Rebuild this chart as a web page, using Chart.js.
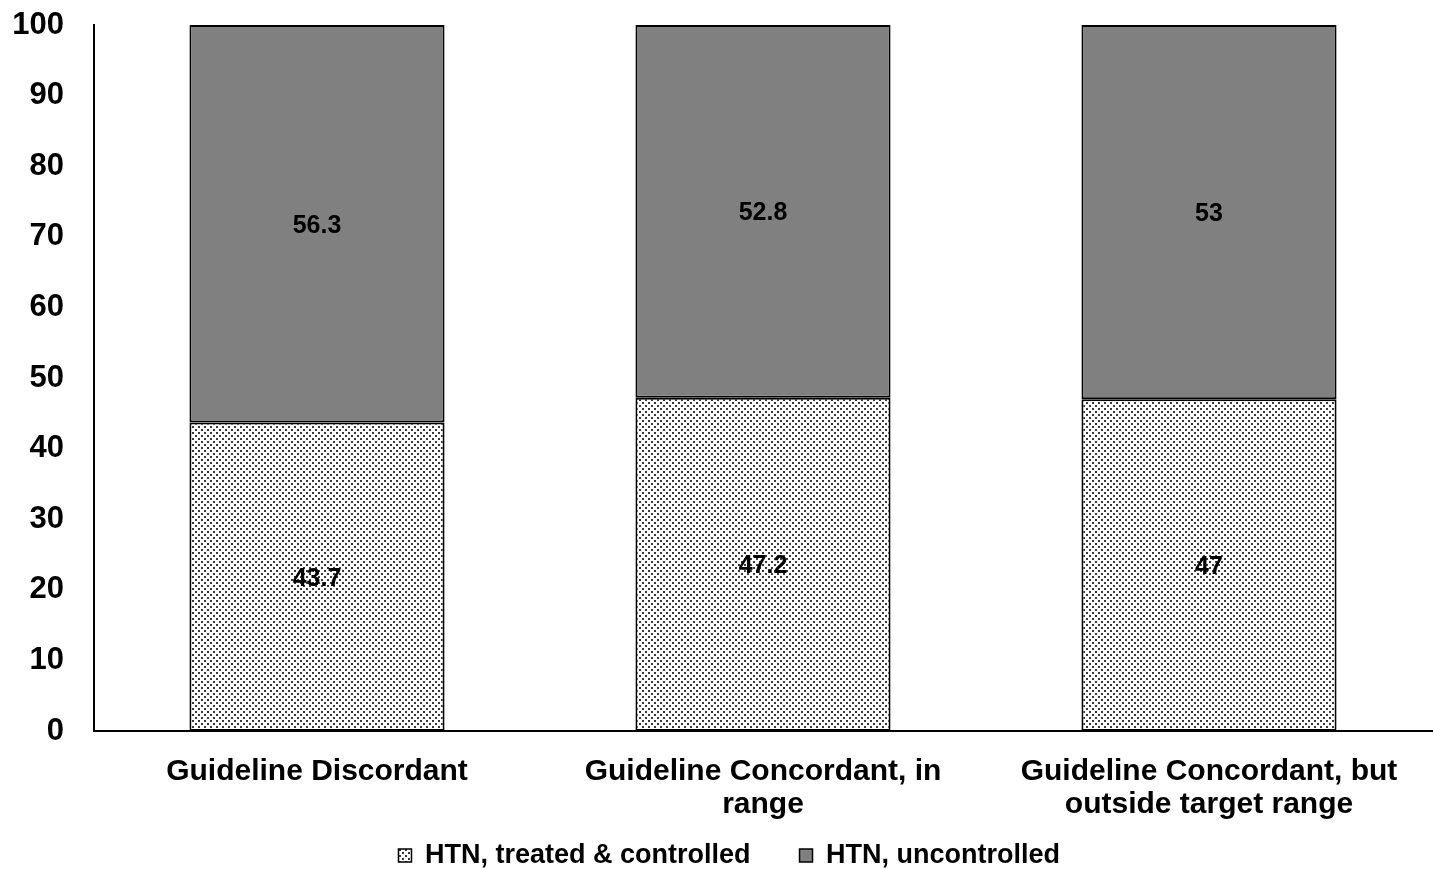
<!DOCTYPE html>
<html>
<head>
<meta charset="utf-8">
<script src="https://cdn.jsdelivr.net/npm/chart.js@4.4.0/dist/chart.umd.min.js"></script>
<style>
  html, body { margin: 0; padding: 0; background: #fff; }
  #wrap { width: 1434px; height: 869px; }
</style>
</head>
<body>
<div id="wrap"><canvas id="c" width="1434" height="869"></canvas></div>
<script>
const categories = [
  ["Guideline Discordant"],
  ["Guideline Concordant, in", "range"],
  ["Guideline Concordant, but", "outside target range"]
];
const seriesNames = ["HTN, treated & controlled", "HTN, uncontrolled"];
const controlled = [43.7, 47.2, 47];
const uncontrolled = [56.3, 52.8, 53];
const yTicks = [0, 10, 20, 30, 40, 50, 60, 70, 80, 90, 100];

function makeDots() {
  const p = document.createElement('canvas');
  p.width = 6; p.height = 6;
  const g = p.getContext('2d');
  g.fillStyle = '#ffffff';
  g.fillRect(0, 0, 6, 6);
  g.fillStyle = '#3a3a3a';
  g.fillRect(0, 0, 2, 2);
  g.fillRect(3, 3, 2, 2);
  return document.getElementById('c').getContext('2d').createPattern(p, 'repeat');
}
const dots = makeDots();

const FONT = "'Liberation Sans', Arial, sans-serif";

const labelPlugin = {
  id: 'segLabels',
  afterDatasetsDraw(chart) {
    const ctx = chart.ctx;
    ctx.save();
    ctx.font = "bold 25px " + FONT;
    ctx.fillStyle = '#000';
    ctx.textAlign = 'center';
    ctx.textBaseline = 'middle';
    chart.data.datasets.forEach((ds, di) => {
      const meta = chart.getDatasetMeta(di);
      meta.data.forEach((el, i) => {
        const c = el.getCenterPoint();
        ctx.fillText(String(ds.data[i]), c.x, c.y + 2);
      });
    });
    ctx.restore();
  }
};

new Chart(document.getElementById('c'), {
  type: 'bar',
  data: {
    labels: categories,
    datasets: [
      {
        label: seriesNames[0],
        data: controlled,
        backgroundColor: dots,
        borderColor: '#000',
        borderWidth: 2,
        borderSkipped: false
      },
      {
        label: seriesNames[1],
        data: uncontrolled,
        backgroundColor: '#808080',
        borderColor: '#000',
        borderWidth: 2,
        borderSkipped: false
      }
    ]
  },
  options: {
    responsive: false,
    animation: false,
    devicePixelRatio: 1,
    layout: { padding: { left: 0, right: 2, top: 2, bottom: 0 } },
    datasets: { bar: { categoryPercentage: 1.0, barPercentage: 0.572 } },
    plugins: {
      legend: {
        position: 'bottom',
        fullSize: false,
        maxHeight: 46,
        labels: {
          font: { family: FONT, size: 27, weight: 'bold' },
          color: '#000',
          boxWidth: 13,
          boxHeight: 13,
          padding: 19,
          generateLabels(chart) {
            const items = Chart.defaults.plugins.legend.labels.generateLabels(chart);
            items.forEach((it, i) => {
              it.lineWidth = 1.5;
              if (i === 0) it.text = it.text + '    ';
              if (i === 1) it.text = it.text + '         ';
            });
            return items;
          }
        }
      },
      tooltip: { enabled: false }
    },
    scales: {
      x: {
        stacked: true,
        grid: { display: false, drawTicks: false },
        border: { color: '#000', width: 2 },
        ticks: {
          font: { family: FONT, size: 30, weight: 'bold', lineHeight: 1.1 },
          color: '#000',
          padding: 24,
          maxRotation: 0,
          autoSkip: false
        },
        afterFit(s) { s.height = 92; }
      },
      y: {
        stacked: true,
        min: 0,
        max: 100,
        grid: { display: false, drawTicks: false },
        border: { color: '#000', width: 2 },
        afterBuildTicks(s) { s.ticks = yTicks.map(v => ({ value: v })); },
        ticks: {
          font: { family: FONT, size: 31, weight: 'bold' },
          color: '#000',
          padding: 30
        },
        afterFit(s) {
          s.width = 94;
          s.paddingTop = 25;
          s.paddingBottom = 0;
        }
      }
    }
  },
  plugins: [labelPlugin]
});
</script>
</body>
</html>
